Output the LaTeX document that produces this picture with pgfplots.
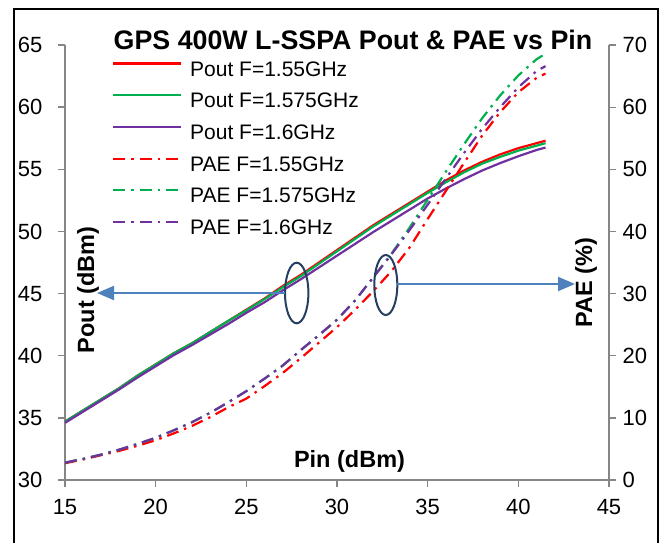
\documentclass[border=0pt]{standalone}
\usepackage{fontspec}
\setmainfont{Liberation Sans}
\usepackage{pgfplots}
\usepackage{pgfplotstable}
\pgfplotsset{compat=1.18}
\usetikzlibrary{arrows.meta}
\definecolor{cred}{RGB}{255,0,0}
\definecolor{cgreen}{RGB}{0,176,80}
\definecolor{cpurple}{RGB}{112,48,160}
\definecolor{axgray}{RGB}{134,134,134}
\definecolor{arrowblue}{RGB}{79,129,189}
\definecolor{ellnavy}{RGB}{36,63,96}

\pgfplotstableread{
pin  r     g     p
15   34.7  34.7  34.6
16   35.6  35.6  35.5
17   36.5  36.5  36.4
18   37.4  37.4  37.3
19   38.4  38.4  38.25
20   39.3  39.3  39.15
21   40.2  40.2  40.05
22   41.0  41.0  40.85
23   41.9  41.9  41.7
24   42.8  42.8  42.55
25   43.7  43.65 43.45
26   44.6  44.55 44.3
27   45.6  45.5  45.25
28   46.5  46.4  46.15
29   47.5  47.4  47.1
30   48.5  48.4  48.05
31   49.5  49.4  49.0
32   50.5  50.4  49.95
33   51.4  51.3  50.85
34   52.3  52.2  51.75
35   53.2  53.1  52.65
36   54.1  53.95 53.45
37   54.9  54.75 54.2
38   55.6  55.45 54.9
39   56.2  56.0  55.5
40   56.7  56.5  56.05
41   57.1  56.9  56.55
41.5 57.3  57.1  56.75
}\pouttable

\pgfplotstableread{
pin  r     g     p
15   2.7   2.8   2.8
16   3.3   3.4   3.4
17   4.0   4.1   4.1
18   4.7   4.9   4.9
19   5.5   5.8   5.8
20   6.4   6.8   6.8
21   7.5   8.0   8.0
22   8.7   9.3   9.3
23   10.1  10.8  10.8
24   11.7  12.5  12.5
25   13.1  14.3  14.3
26   15.1  16.3  16.3
27   17.2  18.4  18.4
28   19.6  20.9  20.9
29   22.1  23.3  23.3
30   24.6  25.8  25.8
31   27.4  28.9  28.9
32   30.4  32.6  32.6
33   33.6  36.4  36.3
34   37.4  40.6  40.2
35   42.0  45.1  44.3
36   46.5  49.6  48.5
37   51.0  54.0  52.6
38   55.4  58.2  56.5
39   59.2  61.9  60.0
40   62.4  65.1  63.2
41   64.7  67.7  65.8
41.5 65.4  68.6  66.6
}\paetable

\pgfplotsset{
  common/.style={
    scale only axis, width=544pt, height=435pt,
    at={(65pt,62pt)}, anchor=south west,
    xmin=15, xmax=45,
    axis line style={-, axgray, line width=1.5pt},
    every outer x axis line/.append style={-},
    every outer y axis line/.append style={-},
    tick style={axgray, line width=1.3pt},
    major tick length=7pt,
    tick align=outside,
    tick label style={font=\fontsize{22}{22}\selectfont},
    /pgf/number format/assume math mode=true,
    label style={font=\bfseries\fontsize{23.5}{23.5}\selectfont},
  },
  paestyle/.style={line width=2.2pt, dash pattern=on 12pt off 6pt on 2.5pt off 6pt},
}

\begin{document}
\begin{tikzpicture}
\begin{axis}[common,
  ymin=30, ymax=65, ytick={30,35,...,65},
  xtick={15,20,...,45},
  axis x line*=bottom, axis y line*=left,
  xtick pos=lower, ytick pos=left,
  yticklabel style={xshift=-12pt},
  xticklabel style={yshift=-8.5pt},
  xlabel={Pin (dBm)}, ylabel={Pout (dBm)},
  xlabel style={at={(axis description cs:0.523,0.0437)}, anchor=center},
  ylabel style={at={(axis description cs:0.0423,0.437)}, anchor=center},
]
\addplot[cred, line width=2.2pt] table[x=pin, y=r] {\pouttable};
\addplot[cgreen, line width=2.2pt] table[x=pin, y=g] {\pouttable};
\addplot[cpurple, line width=2.2pt] table[x=pin, y=p] {\pouttable};
\end{axis}

\begin{axis}[common,
  ymin=0, ymax=70, ytick={0,10,...,70},
  axis y line*=right, axis x line=none,
  ytick pos=right, yticklabel pos=right,
  yticklabel style={xshift=3pt},
  ylabel={PAE (\%)},
  ylabel style={at={(axis description cs:0.958,0.453)}, anchor=center},
  legend cell align=left,
  legend style={at={(axis description cs:0.0864,0.9632)}, anchor=north west,
    draw=none, fill=none, inner sep=0pt, outer sep=0pt,
    font=\fontsize{21}{21}\selectfont, row sep=11.7pt,
    nodes={inner sep=0pt, text height=15pt, text depth=5pt},
    /tikz/every odd column/.append style={column sep=8pt}},
  legend image code/.code={\draw[#1] (0pt,7.5pt) -- (68pt,7.5pt);},
]
\addlegendimage{cred, line width=2.2pt}
\addlegendentry{Pout F=1.55GHz}
\addlegendimage{cgreen, line width=2.2pt}
\addlegendentry{Pout F=1.575GHz}
\addlegendimage{cpurple, line width=2.2pt}
\addlegendentry{Pout F=1.6GHz}
\addplot[cred, paestyle] table[x=pin, y=r] {\paetable};
\addlegendentry{PAE F=1.55GHz}
\addplot[cgreen, paestyle] table[x=pin, y=g] {\paetable};
\addlegendentry{PAE F=1.575GHz}
\addplot[cpurple, paestyle] table[x=pin, y=p] {\paetable};
\addlegendentry{PAE F=1.6GHz}
\end{axis}

\node[anchor=base, font=\bfseries\fontsize{26.8}{26.8}\selectfont] at (353pt,492pt) {GPS 400W L-SSPA Pout \& PAE vs Pin};

\draw[ellnavy, line width=2pt] (296.7pt,249pt) ellipse [x radius=11.7pt, y radius=30.3pt];
\draw[ellnavy, line width=2pt] (385.8pt,257pt) ellipse [x radius=11.5pt, y radius=30pt];
\draw[arrowblue, line width=2pt, -{Triangle[length=17pt,width=14pt]}] (285pt,249pt) -- (97pt,249pt);
\draw[arrowblue, line width=2pt, -{Triangle[length=17pt,width=14pt]}] (397pt,258pt) -- (575pt,258pt);

\draw[black, line width=2pt] (13.7pt,-10pt) -- (13.7pt,533pt) -- (658pt,533pt) -- (658pt,-10pt);

\pgfresetboundingbox
\path[use as bounding box] (0pt,0pt) rectangle (662pt,542pt);
\end{tikzpicture}
\end{document}
